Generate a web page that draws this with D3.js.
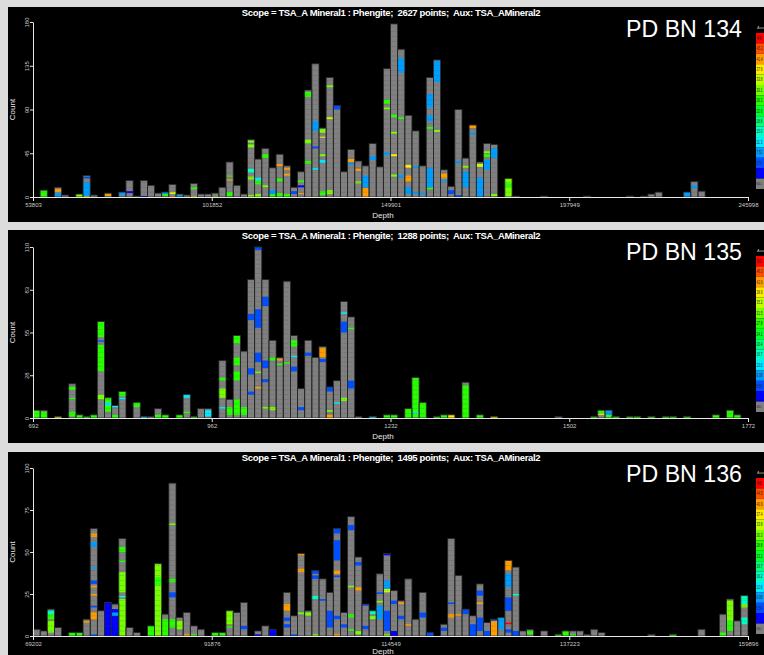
<!DOCTYPE html>
<html lang="en">
<head>
<meta charset="UTF-8">
<title>Depth histograms coloured by Aux</title>
<script src="https://d3js.org/d3.v7.min.js"></script>
<style>
  body { margin: 0; background: #dcdcdc; overflow: hidden; }
  svg { display: block; }
  text { font-family: "Liberation Sans", Arial, sans-serif; }
</style>
</head>
<body>
<div id="chart"></div>
<script>
// ---- data (100 depth bins per panel) ----
var sampleNames = ["PD BN 134", "PD BN 135", "PD BN 136"];
var pointTotals = [2627, 1288, 1495];

var xTicks1 = [53803, 101852, 149901, 197949, 245998];
var xTicks2 = [692, 962, 1232, 1502, 1772];
var xTicks3 = [69202, 91876, 114549, 137223, 159896];

var yTicks1 = [0, 45, 90, 135, 180];
var yTicks2 = [0, 27.5, 55, 82.5, 110];
var yTicks3 = [0, 25, 50, 75, 100];

var legendLabels1 = ["49", "45.2", "41.4", "37.6", "33.8", "30.1", "26.3", "22.6", "18.8", "15.0", "11.3", "7.52", "3.76", "0", "NULL"];
var legendLabels2 = ["50", "46.3", "42.6", "38.9", "35.2", "31.5", "27.8", "24.1", "20.4", "16.7", "13.0", "9.38", "5.69", "2", "NULL"];
var legendLabels3 = ["48", "44.5", "40.9", "37.4", "33.8", "30.3", "26.8", "23.2", "19.7", "16.2", "12.6", "9.08", "5.54", "2", "NULL"];

var counts1 = [0, 7, 0, 10, 2, 0, 3, 22, 2, 0,
  4, 0, 5, 17, 1, 17, 12, 4, 5, 13,
  3, 2, 14, 3, 3, 4, 10, 36, 12, 3,
  59, 39, 50, 30, 44, 32, 10, 26, 110, 137,
  71, 123, 94, 26, 49, 37, 32, 55, 31, 132,
  178, 152, 84, 68, 32, 123, 141, 28, 11, 90,
  40, 74, 36, 55, 54, 0, 19, 1, 0, 0,
  0, 1, 0, 0, 0, 0, 0, 1, 0, 0,
  0, 0, 0, 1, 0, 1, 3, 5, 0, 0,
  0, 5, 16, 6, 0, 0, 0, 0, 0, 0];

var counts2 = [5, 5, 0, 1, 0, 22, 2, 1, 2, 62,
  13, 8, 17, 0, 10, 1, 1, 6, 2, 0,
  2, 15, 1, 6, 6, 0, 37, 12, 53, 43,
  89, 110, 89, 50, 39, 88, 53, 19, 50, 39,
  46, 20, 24, 75, 65, 1, 0, 1, 0, 2,
  2, 0, 6, 26, 10, 0, 1, 2, 2, 0,
  23, 0, 2, 0, 1, 0, 0, 0, 0, 0,
  0, 0, 0, 1, 0, 0, 0, 0, 1, 5,
  5, 1, 0, 1, 1, 0, 1, 0, 1, 1,
  0, 1, 0, 0, 0, 2, 0, 5, 2, 0];

var counts3 = [4, 3, 16, 5, 0, 2, 2, 10, 64, 15,
  20, 19, 58, 5, 2, 0, 6, 43, 13, 91,
  11, 14, 6, 4, 0, 2, 2, 15, 14, 20,
  0, 3, 6, 4, 0, 26, 12, 49, 15, 39,
  34, 26, 64, 14, 71, 47, 19, 15, 37, 49,
  27, 21, 34, 10, 26, 2, 0, 7, 58, 36,
  16, 12, 31, 8, 10, 11, 45, 41, 3, 4,
  0, 3, 0, 1, 3, 3, 3, 1, 4, 2,
  0, 0, 0, 0, 0, 0, 1, 0, 0, 1,
  0, 0, 0, 4, 0, 0, 13, 22, 9, 24];

// coloured runs inside a bar: [bin, first point, number of points, legend class]
var bands1 = [[1,0,7,6],[3,0,4,11],[3,5,3,2],[6,0,3,5],[7,0,1,3],[7,1,14,11],[7,19,2,12],
  [10,1,2,2],[12,2,3,11],[13,4,2,13],[15,0,1,13],[18,1,2,6],[18,3,2,11],[19,0,1,2],[19,3,2,4],
  [20,0,2,11],[22,0,1,3],[22,8,2,6],[25,0,1,5],[27,1,4,6],[27,17,1,2],[27,21,1,6],
  [30,0,2,5],[30,18,3,5],[30,25,4,9],[30,51,3,5],[30,56,2,5],[31,0,3,5],[31,13,4,6],[31,17,3,10],
  [32,10,2,5],[32,40,4,6],[33,0,3,6],[33,3,4,11],[34,0,4,6],[34,16,3,6],[34,32,2,2],
  [35,0,3,6],[35,22,2,2],[35,28,2,2],[36,3,3,12],[37,3,1,2],[37,10,2,13],[37,15,2,6],
  [38,34,3,6],[38,55,4,5],[38,103,5,6],[39,28,2,10],[39,50,2,12],[39,68,10,11],
  [40,2,4,6],[40,35,3,10],[40,42,2,5],[40,61,1,3],[40,66,4,5],[41,3,4,5],[41,80,2,4],[41,113,2,5],
  [42,90,4,12],[44,33,2,11],[44,36,3,2],[45,14,2,5],[45,27,2,2],[46,0,9,2],[46,10,12,11],
  [47,38,4,11],[49,43,3,11],[49,90,2,5],[49,96,4,6],[50,21,2,5],[50,42,2,3],[50,65,2,5],[50,82,3,6],
  [51,20,3,11],[51,80,2,6],[51,128,15,11],[52,3,7,11],[52,16,6,2],[52,30,3,3],[53,3,2,11],[53,30,2,11],
  [54,2,2,11],[55,8,2,6],[55,10,20,11],[55,70,2,6],[55,78,6,11],[55,92,14,11],[56,67,2,5],[56,118,22,11],
  [57,16,2,11],[57,19,5,2],[58,3,4,12],[59,0,2,12],[59,35,2,11],[60,10,16,11],[60,30,2,5],
  [61,64,2,11],[61,71,3,2],[62,0,20,11],[62,31,3,4],[63,28,10,11],[63,41,3,6],[63,45,2,5],
  [64,1,2,5],[64,40,10,11],[66,0,19,5],[66,10,4,6],[91,0,5,11],[92,9,3,11]];

var bands2 = [[0,0,5,6],[1,0,4,6],[3,0,1,3],[5,1,3,6],[5,12,1,6],[5,18,2,6],[6,0,2,6],[7,0,1,6],[8,0,2,6],
  [9,12,3,5],[9,30,17,6],[9,49,1,12],[9,52,10,6],[10,4,9,6],[10,8,2,10],[11,0,2,6],[11,7,1,10],
  [12,12,1,10],[12,14,3,6],[14,7,3,6],[15,0,1,10],[17,0,2,6],[18,0,2,6],[20,0,2,6],
  [21,3,1,6],[21,13,2,10],[22,0,1,6],[24,1,4,10],[26,6,1,10],[26,13,6,5],[26,24,2,6],[27,2,5,6],
  [28,2,10,6],[28,24,6,6],[28,34,5,6],[28,48,5,6],[29,2,5,6],[30,15,2,12],[30,28,4,12],[30,63,4,12],
  [31,19,1,2],[31,29,1,5],[31,36,6,12],[31,58,12,12],[31,108,2,12],[32,6,1,5],[32,23,2,12],[32,32,5,12],[32,72,6,12],
  [33,5,2,5],[33,37,2,6],[34,34,1,6],[34,37,1,2],[35,35,1,6],[36,30,3,12],[36,39,1,10],[36,46,4,6],
  [37,5,2,12],[38,40,2,12],[40,36,2,12],[40,39,6,2],[41,0,2,2],[41,4,1,5],[41,17,3,12],[42,9,1,10],
  [43,11,2,5],[43,55,7,12],[43,67,1,10],[44,19,5,12],[44,57,1,6],[47,0,1,10],
  [49,0,2,6],[50,0,2,6],[52,0,6,6],[53,0,26,6],[53,3,1,10],[54,0,10,6],[56,0,1,6],[57,0,2,6],[58,0,2,3],
  [60,0,21,6],[62,0,2,6],[64,0,1,3],[78,0,1,6],[79,2,1,3],[79,3,2,6],[80,0,2,6],[80,2,3,11],
  [81,0,1,6],[83,0,1,6],[84,0,1,6],[86,0,1,6],[88,0,1,6],[89,0,1,6],[91,0,1,6],[95,0,2,6],[97,0,5,6],[98,0,2,6]];

var bands3 = [[2,2,7,5],[2,10,3,6],[2,13,2,9],[5,0,2,6],[6,0,2,6],[7,8,1,2],
  [8,0,1,12],[8,10,4,2],[8,17,1,12],[8,24,1,2],[8,29,1,2],[8,31,2,12],[8,40,1,11],[8,53,3,11],[8,59,2,2],
  [10,0,20,13],[11,0,16,13],[11,12,2,11],[12,0,22,5],[12,23,1,9],[12,26,12,5],[12,44,1,6],[12,50,3,6],
  [16,0,6,6],[17,0,43,5],[17,30,5,6],[18,0,10,6],[19,5,5,6],[19,23,3,12],[19,32,2,6],[19,66,1,5],
  [20,4,5,5],[21,0,1,2],[22,0,1,6],[25,0,2,6],[26,0,2,6],[27,5,1,6],[27,7,8,5],[29,4,2,12],
  [31,0,1,13],[33,0,4,13],[35,5,2,12],[35,9,2,12],[35,15,4,2],[36,0,1,12],
  [37,13,1,5],[37,38,2,2],[37,48,1,2],[38,12,2,5],[39,0,1,5],[39,22,2,9],[39,34,2,12],[39,37,2,12],
  [40,21,1,12],[41,5,10,12],[42,0,1,2],[42,10,2,12],[42,35,1,12],[42,37,2,2],[42,45,12,12],[42,61,3,12],
  [43,5,2,12],[44,3,1,6],[44,11,2,6],[44,29,1,5],[44,63,3,12],[45,1,2,5],[45,27,2,2],[45,42,2,12],
  [46,4,2,12],[46,18,1,12],[47,10,2,5],[47,13,2,9],[48,10,8,11],[48,20,1,5],[48,25,1,12],
  [49,0,1,5],[49,3,12,12],[49,26,2,4],[49,28,5,11],[49,48,1,13],[50,0,3,13],[50,19,2,12],
  [51,10,2,12],[51,19,1,2],[52,6,1,2],[54,11,3,12],[55,0,2,12],[57,3,2,12],[58,11,2,2],[58,19,1,12],
  [59,12,1,2],[60,13,3,12],[61,0,7,12],[62,3,8,12],[62,19,1,2],[62,24,3,12],[63,0,3,12],
  [64,0,9,2],[64,9,1,12],[65,4,7,11],[66,2,2,12],[66,7,1,0],[66,15,8,12],[66,29,8,11],[66,39,6,2],
  [67,0,3,12],[67,24,1,9],[69,1,2,6],[73,0,1,6],[74,0,3,6],[75,0,1,6],[89,0,1,6],[96,0,2,6],
  [97,3,6,6],[97,9,12,5],[99,7,4,9],[99,17,2,5],[99,19,5,9]];

// ---- layout ----
var W = 764, H = 655, nBins = 100;
var svg = d3.select("#chart").append("svg").attr("width", W).attr("height", H);

// legend classes: red -> blue rainbow, then grey for NULL
var palette = d3.range(14).map(function (i) { return d3.hsl(i * 240 / 13, 1, 0.5).formatHex(); });
palette.push("#808080");

var panels = [
  { y0: 7, h: 215, top: 22, base: 197, counts: counts1, bands: bands1, xTicks: xTicks1, yTicks: yTicks1, legend: legendLabels1 },
  { y0: 230, h: 213, top: 247, base: 418, counts: counts2, bands: bands2, xTicks: xTicks2, yTicks: yTicks2, legend: legendLabels2 },
  { y0: 452, h: 220, top: 468, base: 636, counts: counts3, bands: bands3, xTicks: xTicks3, yTicks: yTicks3, legend: legendLabels3 }
];

panels.forEach(function (p, k) {
  var g = svg.append("g");
  g.append("rect").attr("x", 8).attr("y", p.y0).attr("width", W).attr("height", p.h).attr("fill", "#000");

  var x0 = p.xTicks[0], x1 = p.xTicks[p.xTicks.length - 1];
  var bw = (x1 - x0) / nBins;
  var x = d3.scaleLinear().domain([x0, x1]).range([33, 748]);
  var y = d3.scaleLinear().domain([0, p.yTicks[p.yTicks.length - 1]]).range([p.base, p.top]);
  var bx = function (i) { return x(x0 + i * bw); };
  var bwPx = bx(1) - bx(0);

  var bins = p.counts.map(function (c, i) { return { i: i, c: c }; }).filter(function (d) { return d.c > 0; });

  // grey base for every bar (NULL aux)
  g.append("g").selectAll("rect").data(bins).join("rect")
    .attr("x", d => bx(d.i)).attr("width", bwPx)
    .attr("y", d => y(d.c)).attr("height", d => y(0) - y(d.c))
    .attr("fill", palette[14]);

  // coloured points
  g.append("g").selectAll("rect").data(p.bands).join("rect")
    .attr("x", d => bx(d[0])).attr("width", bwPx)
    .attr("y", d => y(Math.min(d[1] + d[2], p.counts[d[0]])))
    .attr("height", d => y(d[1]) - y(Math.min(d[1] + d[2], p.counts[d[0]])))
    .attr("fill", d => palette[d[3]]);

  // faint point separators
  var step = Math.max(1, Math.round(5 / (y(0) - y(1))));
  var seps = [];
  bins.forEach(function (d) {
    d3.range(step, d.c, step).forEach(function (u) { seps.push({ i: d.i, u: u }); });
  });
  g.append("g").selectAll("line").data(seps).join("line")
    .attr("x1", d => bx(d.i) + 1).attr("x2", d => bx(d.i) + bwPx - 1)
    .attr("y1", d => y(d.u)).attr("y2", d => y(d.u))
    .attr("stroke", "#4a4a4a").attr("stroke-width", 0.5).attr("stroke-dasharray", "1.5,1")
    .attr("opacity", 0.6);

  // bar outlines
  g.append("g").selectAll("rect").data(bins).join("rect")
    .attr("x", d => bx(d.i)).attr("width", bwPx)
    .attr("y", d => y(d.c)).attr("height", d => y(0) - y(d.c))
    .attr("fill", "none").attr("stroke", "#262626").attr("stroke-width", 0.8);

  // axes
  var xAxis = g.append("g").attr("transform", "translate(0," + p.base + ")")
    .call(d3.axisBottom(x).tickValues(p.xTicks).tickSize(4).tickSizeOuter(0).tickFormat(d3.format("d")));
  xAxis.selectAll("text").attr("fill", "#c8c8c8").attr("font-size", 6).attr("dy", "0.45em");

  var yAxis = g.append("g").attr("transform", "translate(33,0)")
    .call(d3.axisLeft(y).tickValues(p.yTicks).tickSize(3).tickSizeOuter(0));
  yAxis.selectAll("text").attr("fill", "#c8c8c8").attr("font-size", 6)
    .attr("transform", "rotate(-90)").attr("x", 0).attr("y", -4).attr("dy", 0)
    .attr("text-anchor", "middle");
  g.selectAll(".domain, .tick line").attr("stroke", "#e6e6e6");

  g.append("text").attr("transform", "translate(15," + ((p.top + p.base) / 2) + ") rotate(-90)")
    .attr("text-anchor", "middle").attr("fill", "#e6e6e6").attr("font-size", 8).text("Count");
  g.append("text").attr("x", 383).attr("y", Math.min(p.base + 21, 654))
    .attr("text-anchor", "middle").attr("fill", "#e6e6e6").attr("font-size", 8).text("Depth");

  // titles
  g.append("text").attr("x", 391).attr("y", p.y0 + 9)
    .attr("text-anchor", "middle").attr("fill", "#fff").attr("font-size", 9.5).attr("font-weight", "bold")
    .attr("letter-spacing", -0.35).style("white-space", "pre")
    .text("Scope = TSA_A Mineral1 : Phengite;  " + pointTotals[k] + " points;  Aux: TSA_AMineral2");
  g.append("text").attr("x", 742).attr("y", p.y0 + 30)
    .attr("text-anchor", "end").attr("fill", "#fff").attr("font-size", 24.5)
    .attr("textLength", 116).attr("lengthAdjust", "spacingAndGlyphs").text(sampleNames[k]);

  // colour legend (squeezed against the window edge)
  var cellH = 10.4, ly = p.y0 + 26;
  g.append("text").attr("x", 757).attr("y", ly - 4).attr("fill", "#bbb").attr("font-size", 4).text("Aux");
  g.append("g").selectAll("rect").data(p.legend).join("rect")
    .attr("x", 756).attr("y", (d, i) => ly + i * cellH).attr("width", 20).attr("height", cellH)
    .attr("fill", (d, i) => palette[i]);
  g.append("g").selectAll("text").data(p.legend).join("text")
    .attr("x", 756.5).attr("y", (d, i) => ly + i * cellH + cellH / 2 + 1.5)
    .attr("fill", "#222").attr("font-size", d => d === "NULL" ? 3 : 4.5)
    .each(function (d) {
      if (d.length > 2) d3.select(this).attr("textLength", d === "NULL" ? 5.5 : 6).attr("lengthAdjust", "spacingAndGlyphs");
    })
    .text(d => d);
});
</script>
</body>
</html>
